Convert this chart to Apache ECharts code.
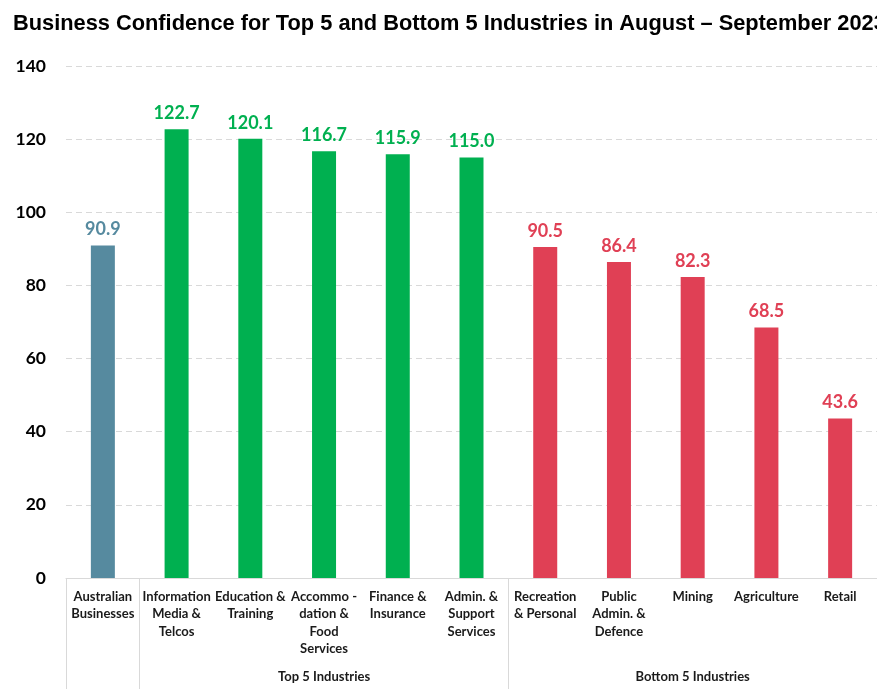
<!DOCTYPE html>
<html><head><meta charset="utf-8">
<script src="https://cdn.jsdelivr.net/npm/echarts@6/dist/echarts.min.js"></script>
<style>html,body{margin:0;padding:0;background:#fff}#c{width:877px;height:689px}</style>
</head><body><div id="c"></div>
<script>
const categories = ["Australian\nBusinesses","Information\nMedia &\nTelcos","Education &\nTraining","Accommo -\ndation &\nFood\nServices","Finance &\nInsurance","Admin. &\nSupport\nServices","Recreation\n& Personal","Public\nAdmin. &\nDefence","Mining","Agriculture","Retail"];
const values = [90.9,122.7,120.1,116.7,115.9,115.0,90.5,86.4,82.3,68.5,43.6];
const groups = ["Australian", "Top", "Top", "Top", "Top", "Top", "Bottom", "Bottom", "Bottom", "Bottom", "Bottom"];
const groupLabels = {3: "Top 5 Industries", 8: "Bottom 5 Industries"};
const yTicks = [0,20,40,60,80,100,120,140];
const colorMap = {Australian: "#568a9f", Top: "#00b050", Bottom: "#e04055"};

const chart = echarts.init(document.getElementById('c'));
const font = "Lato, 'Open Sans', sans-serif";
chart.setOption({
  animation: false,
  title: {text: "Business Confidence for Top 5 and Bottom 5 Industries in August \u2013 September 2023",
    left: 8, top: 8, textStyle: {fontFamily: "'Liberation Sans', Arial, sans-serif", fontWeight: "bold", fontSize: 21.8, color: "#000"}},
  grid: {left: 66, top: 66, width: 814, height: 512, containLabel: false},
  xAxis: [{
    type: "category", data: categories, position: "bottom",
    axisLine: {lineStyle: {color: "#d9d9d9"}},
    axisTick: {show: false},
    axisLabel: {interval: 0, margin: 10, fontFamily: font, fontWeight: "bold", fontSize: 13, lineHeight: 17.5, color: "#1a1a1a"}
  },{
    type: "category", data: categories.map((c,i)=>groupLabels[i]||""), position: "bottom",
    axisLine: {show: false},
    axisTick: {show: true, length: 112, interval: function(i){return i===0||i===1||i===6;}, lineStyle: {color: "#d9d9d9"}},
    axisLabel: {interval: 0, margin: 92, fontFamily: font, fontWeight: "bold", fontSize: 13, color: "#1a1a1a"}
  }],
  yAxis: {type: "value", min: yTicks[0], max: yTicks[yTicks.length-1], interval: 20,
    axisLine: {show: false}, axisTick: {show: false},
    splitLine: {lineStyle: {color: "#d9d9d9", type: [6,4]}},
    axisLabel: {margin: 20, fontFamily: font, fontWeight: "bold", fontSize: 17.5, color: "#000"}},
  series: [{
    type: "bar", barWidth: 24,
    data: values.map((v,i)=>({value: v, itemStyle: {color: colorMap[groups[i]]},
      label: {color: colorMap[groups[i]]}})),
    label: {show: true, position: "top", distance: 7, fontFamily: font, fontWeight: "bold", fontSize: 18,
      formatter: p => p.value.toFixed(1)}
  }]
});
</script></body></html>
